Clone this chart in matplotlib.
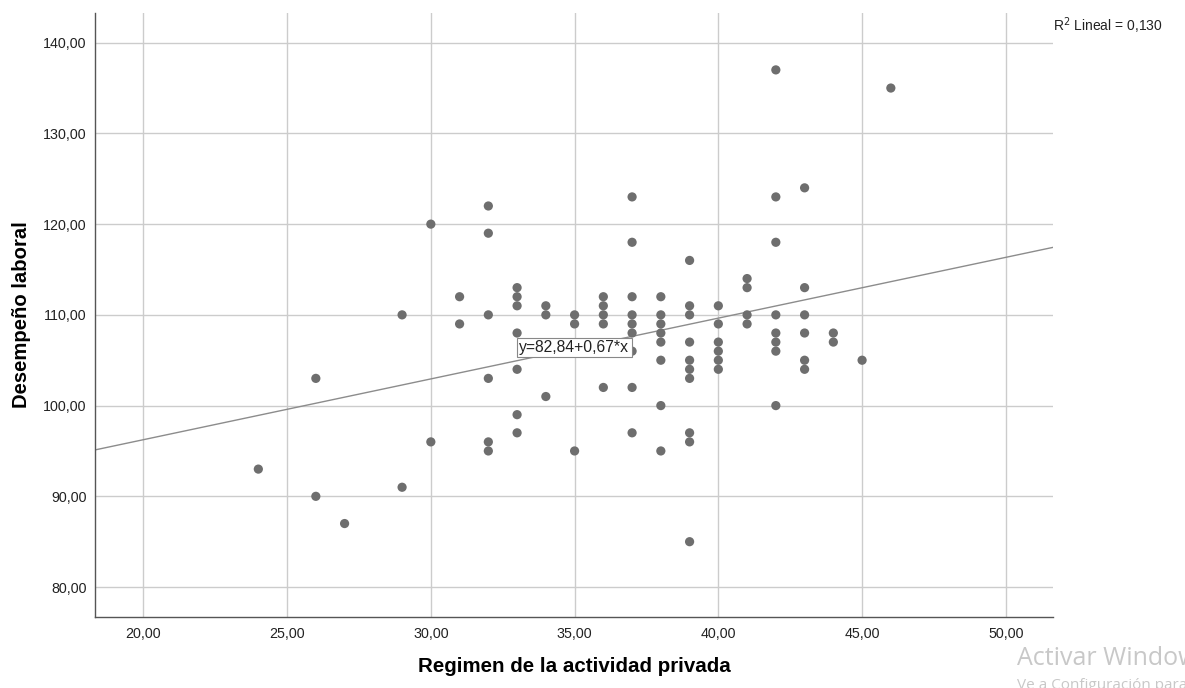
import matplotlib
matplotlib.use("Agg")
import matplotlib.pyplot as plt
import numpy as np

plt.rcParams['font.family'] = ['Liberation Sans', 'DejaVu Sans']

# Data
x_vals = [24, 26, 26, 27, 29, 29, 30, 30, 31, 31,
          32, 32, 32, 32, 32, 32,
          33, 33, 33, 33, 33, 33, 33,
          34, 34, 34,
          35, 35, 35,
          36, 36, 36, 36, 36,
          37, 37, 37, 37, 37, 37, 37, 37, 37,
          38, 38, 38, 38, 38, 38, 38, 38,
          39, 39, 39, 39, 39, 39, 39, 39, 39, 39,
          40, 40, 40, 40, 40, 40,
          41, 41, 41, 41,
          42, 42, 42, 42, 42, 42, 42, 42,
          43, 43, 43, 43, 43, 43,
          44, 44, 45, 46]
y_vals = [93, 103, 90, 87, 110, 91, 120, 96, 112, 109,
          122, 119, 110, 103, 96, 95,
          113, 112, 111, 108, 104, 99, 97,
          111, 110, 101,
          110, 109, 95,
          112, 111, 110, 109, 102,
          123, 118, 112, 110, 109, 108, 106, 102, 97,
          112, 110, 109, 108, 107, 105, 100, 95,
          116, 111, 110, 107, 105, 104, 103, 97, 96, 85,
          111, 109, 107, 106, 105, 104,
          114, 113, 110, 109,
          137, 123, 118, 110, 108, 107, 106, 100,
          124, 113, 110, 108, 105, 104,
          108, 107, 105, 135]

intercept = 82.84
slope = 0.67
r2 = 0.130

x_ticks = [20, 25, 30, 35, 40, 45, 50]
y_ticks = [80, 90, 100, 110, 120, 130, 140]

fig = plt.figure(figsize=(11.85, 6.88), dpi=100)
ax = fig.add_axes([0.0802, 0.1032, 0.8084, 0.8783])

xlim = (18.32, 51.64)
ylim = (76.7, 143.3)
ax.set_xlim(*xlim)
ax.set_ylim(*ylim)

ax.set_xticks(x_ticks)
ax.set_yticks(y_ticks)
ax.set_xticklabels([f"{v:.2f}".replace('.', ',') for v in x_ticks], fontsize=10.3, color='#222222')
ax.set_yticklabels([f"{v:.2f}".replace('.', ',') for v in y_ticks], fontsize=10.3, color='#222222')
ax.tick_params(axis='x', length=0, pad=7)
ax.tick_params(axis='y', length=0, pad=6)

ax.grid(True, color='#cccccc', linewidth=1.0)
ax.set_axisbelow(True)
for s in ['top', 'right']:
    ax.spines[s].set_visible(False)
for s in ['left', 'bottom']:
    ax.spines[s].set_color('#555555')
    ax.spines[s].set_linewidth(1.0)

# regression line
lx = np.array(xlim)
ax.plot(lx, intercept + slope * lx, color='#8c8c8c', linewidth=1.0, zorder=2)

ax.scatter(x_vals, y_vals, s=44, color='#6e6e6e', edgecolors='none', zorder=3)

ax.text(34.99, 106.4, f"y={intercept:.2f}+{slope:.2f}*x".replace('.', ','),
        ha='center', va='center', fontsize=11.3, color='#222222', zorder=4,
        bbox=dict(boxstyle='square,pad=0.15', facecolor='white', edgecolor='#888888', linewidth=0.8))

fig.text(0.8887, 0.963, r"R$^2$ Lineal = " + f"{r2:.3f}".replace('.', ','),
         fontsize=10, color='#222222', ha='left', va='center')

ax.set_xlabel("Regimen de la actividad privada", fontsize=14.8, fontweight='bold', labelpad=12)
ax.set_ylabel("Desempeño laboral", fontsize=14.6, fontweight='bold', labelpad=9)

# Windows activation watermark (cut off at the edge as in the reference)
fig.text(0.858, 0.0334, "Activar Windows", fontsize=18, color='#c8c8c8',
         family=['Open Sans', 'DejaVu Sans'], ha='left', va='baseline')
fig.text(0.858, -0.001, "Ve a Configuración para activar Windows.", fontsize=11, color='#c8c8c8',
         family=['Open Sans', 'DejaVu Sans'], ha='left', va='baseline')

fig.savefig("out.png", dpi=100)
